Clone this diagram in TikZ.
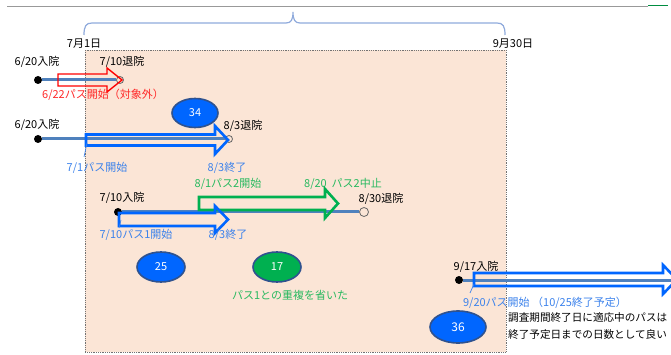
\documentclass[tikz,border=0pt]{standalone}
\usepackage{fontspec}
\setmainfont{Noto Sans CJK JP}
\usetikzlibrary{shapes.geometric}
\definecolor{peach}{RGB}{251,229,214}
\definecolor{steel}{RGB}{79,129,189}
\definecolor{pblue}{RGB}{0,102,255}
\definecolor{tblue}{RGB}{60,130,235}
\definecolor{pgreen}{RGB}{0,176,80}
\definecolor{tgreen}{RGB}{40,185,95}
\definecolor{pred}{RGB}{255,0,0}
\definecolor{tred}{RGB}{255,40,40}
\definecolor{ebord}{RGB}{47,82,143}
\definecolor{brace}{RGB}{143,170,220}
\newcommand{\harrow}[8]{\draw[#1, line width=#2, line join=miter] (#3,#6-#7) -- (#4,#6-#7) -- (#4,#6-#8) -- (#5,#6) -- (#4,#6+#8) -- (#4,#6+#7) -- (#3,#6+#7) -- cycle;}
\tikzset{
  lbl/.style={font=\fontsize{11}{13}\selectfont, inner sep=0pt, text=black},
  blbl/.style={lbl, text=tblue},
  glbl/.style={lbl, text=tgreen},
  rlbl/.style={lbl, text=tred},
  dot/.style={circle, fill=black, minimum size=8pt, inner sep=0pt},
  odot/.style={circle, draw=black!60, fill=peach, line width=0.8pt, minimum size=8pt, inner sep=0pt},
  stay/.style={draw=steel, line width=3pt},
  oval/.style={ellipse, draw=ebord, line width=1.6pt, inner sep=0pt, text=white, font=\fontsize{11}{13}\selectfont},
  ptr/.style={draw=tblue, line width=0.7pt}
}
\begin{document}
\begin{tikzpicture}[x=1pt, y=-1pt]
\useasboundingbox (0,0) rectangle (671,355);
\begin{scope}
\clip (0,0) rectangle (671,355);
% top rule
\draw[black!40, line width=0.8pt] (7,6) -- (648,6);
\draw[pgreen!80!black, line width=1pt] (648,6) -- (668,6);
% brace
\draw[brace, line width=1.2pt] (84,35) .. controls (84,26) and (86,23) .. (92,23) -- (286,23) .. controls (291,23) and (293,20) .. (293,12) .. controls (293,20) and (295,23) .. (300,23) -- (497,23) .. controls (503,23) and (505,26) .. (505,35);
% survey period box
\draw[black!55, densely dotted, line width=0.8pt, fill=peach] (85,50) rectangle (506,352);
\node[lbl] (d71) at (84,44) {7月1日};
\node[lbl] (d930) at (513,44) {9月30日};

% row 1
\node[lbl] (t1a) at (37,62) {6/20入院};
\node[lbl] (t1b) at (122,62) {7/10退院};
\node[dot] (p1) at (38,80) {};
\node[odot, minimum size=7pt] (c1) at (120,80) {};
\draw[stay] (p1) -- (c1);
\harrow{draw=pred}{1.4pt}{58}{107}{122}{80}{6}{12}
\node[rlbl] (t1c) at (103,95) {6/22パス開始（対象外）};

% row 2
\node[lbl] (t2a) at (37,125) {6/20入院};
\node[lbl] (t2b) at (243,126) {8/3退院};
\node[dot] (p2) at (38,139) {};
\node[odot, minimum size=7pt] (c2) at (229,139) {};
\draw[stay] (p2) -- (c2);
\harrow{draw=pblue}{2.6pt}{86}{215}{228}{140}{5.5}{14}
\node[blbl] (t2c) at (97,168) {7/1パス開始};
\node[blbl] (t2d) at (227,168) {8/3終了};
\draw[ptr] (84,157) -- (87,143);
\node[oval, fill=pblue, minimum width=46pt, minimum height=29pt] (e34) at (195,113) {34};

% row 3
\node[glbl] (g1) at (228,184) {8/1パス2開始};
\node[glbl] (g2) at (343,184) {8/20\ \ パス2中止};
\node[lbl] (t3a) at (122,198) {7/10入院};
\node[lbl] (t3b) at (381,199) {8/30退院};
\node[dot] (p3) at (118,212) {};
\node[odot, minimum size=9pt] (c3) at (364,212) {};
\draw[stay] (p3) -- (c3);
\harrow{draw=pgreen}{2.6pt}{199}{325}{338}{203.5}{6.5}{14.5}
\harrow{draw=pblue}{2.6pt}{119}{215}{228}{219.5}{6.5}{13.5}
\node[blbl] (t3c) at (136,235) {7/10パス1開始};
\node[blbl] (t3d) at (228,235) {8/3終了};
\draw[ptr] (119,228) -- (121,220);
\node[oval, fill=pblue, minimum width=48pt, minimum height=30pt] (e25) at (161,267) {25};
\node[oval, fill=pgreen, minimum width=48pt, minimum height=30pt] (e17) at (277,267) {17};
\node[glbl] (g3) at (290,295) {パス1との重複を省いた};

% row 4
\node[lbl] (t4a) at (476,267) {9/17入院};
\node[dot] (p4) at (459,280) {};
\coordinate (r4) at (675,280);
\draw[stay] (p4) -- (r4);
\harrow{draw=pblue}{2.6pt}{474}{663}{677}{279.5}{6.5}{14.5}
\node[blbl] (t4b) at (545,303) {9/20パス開始 （10/25終了予定）};
\draw[ptr] (470,293) -- (474,284);
\node[lbl, anchor=west, font=\fontsize{10.6}{13}\selectfont] (t4c) at (508,318) {調査期間終了日に適応中のパスは};
\node[lbl, anchor=west, font=\fontsize{10.6}{13}\selectfont] (t4d) at (508,334) {終了予定日までの日数として良い};
\node[oval, fill=pblue, minimum width=56pt, minimum height=32pt, font=\fontsize{12}{14}\selectfont] (e36) at (458,327) {36};
\end{scope}
\end{tikzpicture}
\end{document}
